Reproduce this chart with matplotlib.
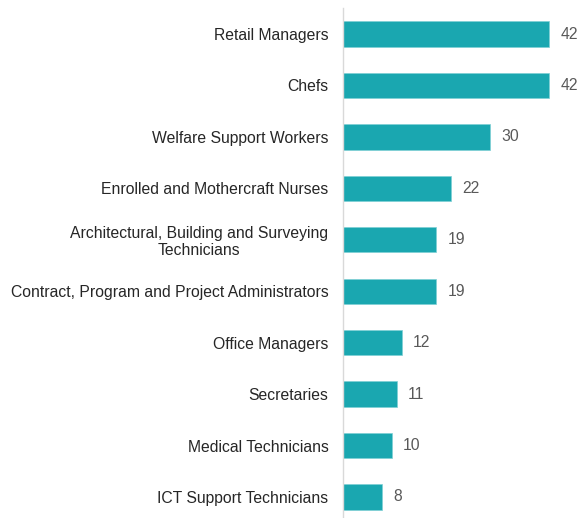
import matplotlib.pyplot as plt

occupations = ['Retail Managers', 'Chefs', 'Welfare Support Workers',
               'Enrolled and Mothercraft Nurses',
               'Architectural, Building and Surveying\nTechnicians',
               'Contract, Program and Project Administrators',
               'Office Managers', 'Secretaries', 'Medical Technicians',
               'ICT Support Technicians']
counts = [42, 42, 30, 22, 19, 19, 12, 11, 10, 8]

plt.rcParams['font.family'] = ['Liberation Sans', 'DejaVu Sans']

fig = plt.figure(figsize=(5.82, 5.18), dpi=100)
ax = fig.add_axes([343 / 582, -4.7 / 518, 239 / 582, 514.4 / 518])

ypos = list(range(len(occupations)))
bars = ax.barh(ypos, counts, height=0.49, color='#1AA7B0', edgecolor='#7fd0d5', linewidth=0.5)
ax.set_ylim(len(occupations) - 0.5, -0.5)
ax.set_xlim(0, 48.7)

for y, v in zip(ypos, counts):
    ax.annotate(str(v), (v, y), xytext=(8, 0), textcoords='offset points',
                va='center', ha='left', fontsize=11.3, color='#595959')

ax.set_yticks(ypos)
ax.set_yticklabels(occupations, fontsize=11.3, color='#262626', ha='right',
                   multialignment='center', linespacing=1.15)
ax.tick_params(axis='y', length=0, pad=10.5)
ax.set_xticks([])
for s in ['top', 'right', 'bottom']:
    ax.spines[s].set_visible(False)
ax.spines['left'].set_color('#d9d9d9')
ax.spines['left'].set_linewidth(1)

fig.savefig('out.png', dpi=100)
